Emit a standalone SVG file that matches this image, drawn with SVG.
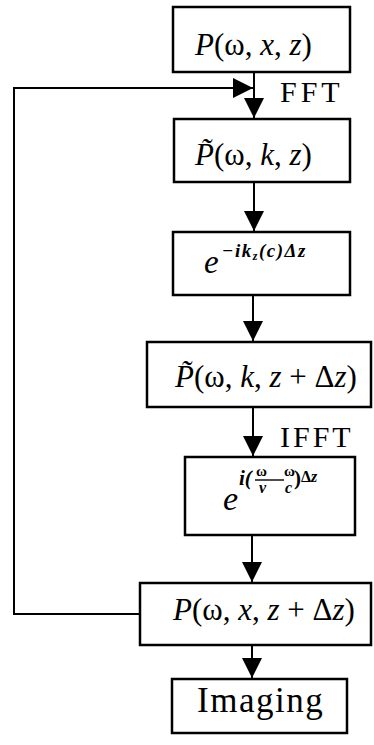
<svg xmlns="http://www.w3.org/2000/svg" width="374" height="745" viewBox="0 0 374 745">
<style>
.box{fill:#fff;stroke:#000;stroke-width:2.5}
.ln{fill:none;stroke:#000;stroke-width:2}
text{font-family:'Liberation Serif','DejaVu Serif',serif;fill:#000}
.i{font-style:italic}
.b{font-weight:bold}
</style>
<defs>
<marker id="ah" viewBox="0 0 20 20" refX="20" refY="10" markerWidth="20" markerHeight="20" markerUnits="userSpaceOnUse" orient="auto">
<path d="M0,0 L20,10 L0,20 Z" fill="#000"/>
</marker>
</defs>
<g id="connectors">
<line class="ln" x1="254" y1="72" x2="254" y2="118" marker-end="url(#ah)"/>
<line class="ln" x1="254" y1="182" x2="254" y2="231" marker-end="url(#ah)"/>
<line class="ln" x1="253" y1="295" x2="253" y2="341" marker-end="url(#ah)"/>
<line class="ln" x1="253" y1="407" x2="253" y2="456" marker-end="url(#ah)"/>
<line class="ln" x1="252" y1="535" x2="252" y2="582" marker-end="url(#ah)"/>
<line class="ln" x1="252" y1="645" x2="252" y2="678" marker-end="url(#ah)"/>
<path class="ln" d="M140,614 L14,614 L14,88 L253,88" stroke-width="2.5" marker-end="url(#ah)"/>
<text x="280" y="102" font-size="30" letter-spacing="4">FFT</text>
<text x="280" y="447" font-size="30" letter-spacing="3">IFFT</text>
</g>
<g id="n1">
<rect class="box" x="173" y="7" width="177" height="65"/>
<text x="195" y="55" font-size="31"><tspan class="i">P</tspan>(ω, <tspan class="i">x</tspan>, <tspan class="i">z</tspan>)</text>
</g>
<g id="n2">
<rect class="box" x="174" y="119" width="176" height="63"/>
<text x="195" y="165" font-size="31"><tspan class="i">P̃</tspan>(ω, <tspan class="i">k</tspan>, <tspan class="i">z</tspan>)</text>
</g>
<g id="n3">
<rect class="box" x="173" y="232" width="177" height="63"/>
<text class="i" x="204" y="273" font-size="33">e</text>
<text class="i b" x="222" y="257" font-size="19" letter-spacing="1.5">−ik<tspan font-size="12" dy="3">z</tspan><tspan dy="-3">(c)Δz</tspan></text>
</g>
<g id="n4">
<rect class="box" x="147" y="342" width="224" height="65"/>
<text x="175" y="387" font-size="31"><tspan class="i">P̃</tspan>(ω, <tspan class="i">k</tspan>, <tspan class="i">z</tspan> + Δ<tspan class="i">z</tspan>)</text>
</g>
<g id="n5">
<rect class="box" x="185" y="457" width="170" height="78"/>
<text class="i" x="223" y="510" font-size="34">e</text>
<text class="i b" x="239" y="485" font-size="21">i(</text>
<text class="b" x="256" y="476" font-size="15">ω</text>
<text class="i b" x="259" y="493" font-size="16">v</text>
<line x1="255" y1="480" x2="284" y2="480" stroke="#000" stroke-width="1.4"/>
<text class="b" x="284" y="476" font-size="15">ω</text>
<text class="i b" x="285" y="493" font-size="16">c</text>
<text class="b" x="294" y="485" font-size="21">)</text>
<text class="b" x="301" y="482" font-size="16">Δ<tspan class="i">z</tspan></text>
</g>
<g id="n6">
<rect class="box" x="140" y="583" width="231" height="62"/>
<text x="173" y="620" font-size="31"><tspan class="i">P</tspan>(ω, <tspan class="i">x</tspan>, <tspan class="i">z</tspan> + Δ<tspan class="i">z</tspan>)</text>
</g>
<g id="n7">
<rect class="box" x="172" y="679" width="175" height="54"/>
<text x="197" y="712" font-size="35" letter-spacing="1.5">Imaging</text>
</g>
</svg>
